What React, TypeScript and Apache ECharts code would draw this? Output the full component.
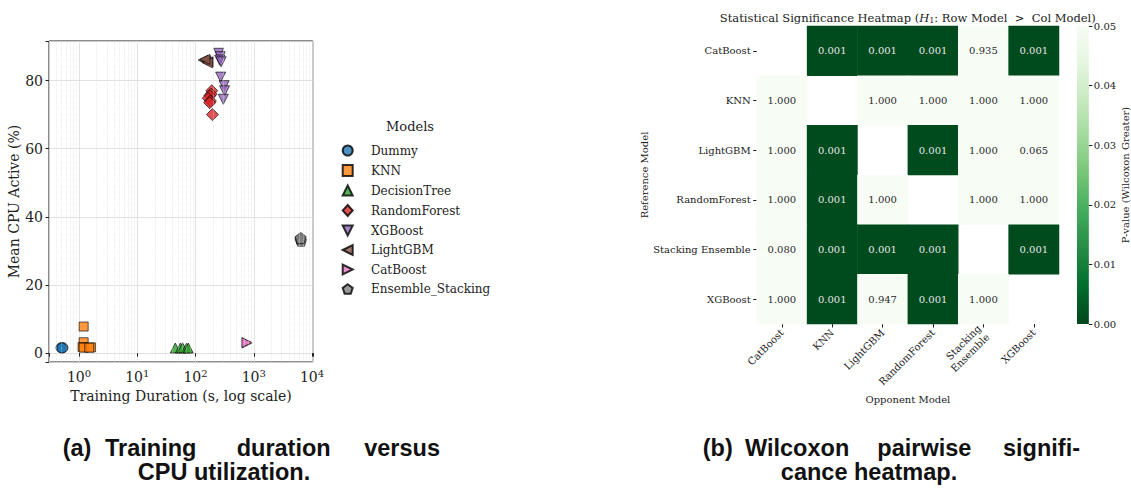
import React, { useEffect, useRef } from "react";
import * as echarts from "echarts";

// ---------- Data: (a) training duration (s) vs mean CPU active (%) ----------
const modelNames = ["Dummy", "KNN", "DecisionTree", "RandomForest", "XGBoost", "LightGBM", "CatBoost", "Ensemble_Stacking"];
const dummyPts = [[0.49, 1.6], [0.53, 1.6], [0.51, 1.5]];
const knnPts = [[1.2, 7.8], [1.2, 3.2], [1.15, 1.8], [1.2, 1.6], [1.6, 1.7], [1.5, 1.6]];
const treePts = [[45, 1.5], [55, 1.5], [60, 1.6], [70, 1.5], [75, 1.5]];
const rfPts = [[190, 77], [185, 76], [175, 75.5], [165, 74.8], [180, 74], [175, 73.5], [195, 70]];
const xgbPts = [[250, 88], [265, 87], [260, 86], [275, 85.5], [270, 81], [310, 78.5], [315, 77], [300, 74.5]];
const lgbmPts = [[135, 86], [150, 85.8], [165, 85.5], [160, 85.2], [145, 86.2]];
const catPts = [[770, 3.0], [760, 3.1]];
const stackPts = [[6300, 33.5], [6500, 33.0], [6400, 33.8]];
const modelColors = ["#1f77b4", "#ff7f0e", "#2ca02c", "#d62728", "#9467bd", "#8c564b", "#e377c2", "#7f7f7f"];

// ---------- Data: (b) Wilcoxon p-values, rows = reference, cols = opponent ----------
const rowNames = ["CatBoost", "KNN", "LightGBM", "RandomForest", "Stacking Ensemble", "XGBoost"];
const colNames = ["CatBoost", "KNN", "LightGBM", "RandomForest", "Stacking\nEnsemble", "XGBoost"];
const pCatBoost = [null, 0.001, 0.001, 0.001, 0.935, 0.001];
const pKNN = [1.0, null, 1.0, 1.0, 1.0, 1.0];
const pLightGBM = [1.0, 0.001, null, 0.001, 1.0, 0.065];
const pRandomForest = [1.0, 0.001, 1.0, null, 1.0, 1.0];
const pStacking = [0.08, 0.001, 0.001, 0.001, null, 0.001];
const pXGBoost = [1.0, 0.001, 0.947, 0.001, 1.0, null];
const pMatrix = [pCatBoost, pKNN, pLightGBM, pRandomForest, pStacking, pXGBoost];
const colorbarTicks = [0, 0.01, 0.02, 0.03, 0.04, 0.05];
const pMax = 0.05;

const greens = ["#f7fcf5", "#e5f5e0", "#c7e9c0", "#a1d99b", "#74c476", "#41ab5d", "#238b45", "#006d2c", "#00441b"];
const SERIF = "DejaVu Serif";
const SANS = "Liberation Sans";

const TRI_UP = "path://M0,-1L1,1L-1,1Z";
const TRI_DOWN = "path://M-1,-1L1,-1L0,1Z";
const TRI_LEFT = "path://M-1,0L1,-1L1,1Z";
const TRI_RIGHT = "path://M1,0L-1,-1L-1,1Z";
const PENTAGON = "path://M0,-10L9.51,-3.09L5.88,8.09L-5.88,8.09L-9.51,-3.09Z";

export default function App() {
  const ref = useRef<HTMLDivElement>(null);
  useEffect(() => {
    if (!ref.current) return;
    const chart = echarts.init(ref.current, undefined, { renderer: "svg" });

    const pointSets = [dummyPts, knnPts, treePts, rfPts, xgbPts, lgbmPts, catPts, stackPts];
    const symbols = ["circle", "rect", TRI_UP, "diamond", TRI_DOWN, TRI_LEFT, TRI_RIGHT, PENTAGON];
    const sizes = [10, 9, 10, 12, 10, 10, 10, 11];

    // minor log grid positions (2..9 x 10^n)
    const minorX: number[] = [];
    for (let e = -1; e <= 3; e++) for (let m = 2; m <= 9; m++) {
      const v = m * Math.pow(10, e);
      if (v > 0.305 && v < 10400) minorX.push(v);
    }

    const scatterSeries: any[] = modelNames.map((name, i) => ({
      type: "scatter",
      name,
      xAxisIndex: 0,
      yAxisIndex: 0,
      data: pointSets[i],
      symbol: symbols[i],
      symbolSize: sizes[i],
      itemStyle: { color: modelColors[i], opacity: 0.8, borderColor: "#000", borderWidth: 0.8 },
      z: 3,
    }));

    const gridSeries = {
      type: "scatter",
      name: "minorGrid",
      xAxisIndex: 0,
      yAxisIndex: 0,
      data: [],
      silent: true,
      z: 1,
      markLine: {
        silent: true,
        symbol: ["none", "none"],
        label: { show: false },
        lineStyle: { type: "dotted", color: "#dcdcdc", width: 0.6 },
        data: minorX.map((v) => ({ xAxis: v })),
      },
    };

    const heatData: any[] = [];
    pMatrix.forEach((row, r) => {
      row.forEach((v, c) => {
        if (v === null) return;
        heatData.push({
          value: [c, r, v, Math.min(v, pMax)],
          label: { color: v < 0.025 ? "#e6e6e6" : "#2b2b2b" },
        });
      });
    });

    const heatIndex = scatterSeries.length + 1;
    const capStyle = { fontFamily: SANS, fontWeight: "bold", fontSize: 23.5, fill: "#111", verticalAlign: "middle" };
    const Y1 = 447.5;
    const Y2 = 471.5;

    const option: any = {
      animation: false,
      backgroundColor: "#ffffff",
      legend: {
        data: modelNames.map((n, i) => ({ name: n, icon: symbols[i] })),
        orient: "vertical",
        left: 336.7,
        top: 139.5,
        itemWidth: 10,
        itemHeight: 11,
        itemGap: 7.5,
        textStyle: { fontFamily: SERIF, fontSize: 12, color: "#222", lineHeight: 11, padding: [0, 0, 0, 13.3] },
      },
      grid: [
        { left: 49, top: 41, width: 264, height: 321, show: true, borderColor: "#1a1a1a", borderWidth: 1, containLabel: false },
        { left: 756.7, top: 26, width: 302.3, height: 298, containLabel: false },
        { left: 1077, top: 26, width: 16, height: 298, containLabel: false },
      ],
      xAxis: [
        {
          type: "log",
          logBase: 10,
          gridIndex: 0,
          min: 0.305,
          max: 10400,
          name: "Training Duration (s, log scale)",
          nameLocation: "middle",
          nameGap: 23,
          nameTextStyle: { fontFamily: SERIF, fontSize: 14, color: "#222" },
          axisLine: { show: false },
          axisTick: { show: true, length: 3.5, lineStyle: { color: "#222" } },
          splitLine: { show: true, lineStyle: { color: "#dadada", width: 0.8 } },
          axisLabel: {
            margin: 6,
            formatter: (v: number) => {
              const e = Math.log10(v);
              const r = Math.round(e);
              if (Math.abs(e - r) > 1e-6) return "";
              return `{b|10}{s|${r}}`;
            },
            rich: {
              b: { fontFamily: SERIF, fontSize: 14, color: "#222" },
              s: { fontFamily: SERIF, fontSize: 10, color: "#222", padding: [0, 0, 8, 0] },
            },
          },
        },
        {
          type: "category",
          gridIndex: 1,
          data: colNames,
          name: "Opponent Model",
          nameLocation: "middle",
          nameGap: 66,
          nameTextStyle: { fontFamily: SERIF, fontSize: 10, color: "#222" },
          axisLine: { show: false },
          axisTick: { show: true, alignWithLabel: true, length: 3.5, lineStyle: { color: "#222" } },
          splitLine: { show: false },
          axisLabel: { rotate: 45, margin: 7, fontFamily: SERIF, fontSize: 10, color: "#222", interval: 0, lineHeight: 12 },
        },
        {
          type: "category",
          gridIndex: 2,
          data: ["p"],
          show: false,
        },
      ],
      yAxis: [
        {
          type: "value",
          gridIndex: 0,
          min: -2.6,
          max: 91.6,
          name: "Mean CPU Active (%)",
          nameLocation: "middle",
          nameRotate: 90,
          nameGap: 26,
          nameTextStyle: { fontFamily: SERIF, fontSize: 14, color: "#222" },
          axisLine: { show: false },
          axisTick: { show: true, length: 3.5, lineStyle: { color: "#222" } },
          splitLine: { show: true, lineStyle: { color: "#dadada", width: 0.8 } },
          axisLabel: {
            margin: 6,
            fontFamily: SERIF,
            fontSize: 14,
            color: "#222",
            formatter: (v: number) => (Math.abs(v / 20 - Math.round(v / 20)) < 1e-6 ? String(Math.round(v)) : ""),
          },
        },
        {
          type: "category",
          gridIndex: 1,
          data: rowNames,
          inverse: true,
          name: "Reference Model",
          nameLocation: "middle",
          nameRotate: 90,
          nameGap: 106,
          nameTextStyle: { fontFamily: SERIF, fontSize: 10, color: "#222" },
          axisLine: { show: false },
          axisTick: { show: true, alignWithLabel: true, length: 3.5, lineStyle: { color: "#222" } },
          splitLine: { show: false },
          axisLabel: { margin: 6, fontFamily: SERIF, fontSize: 10, color: "#222", interval: 0 },
        },
        {
          type: "value",
          gridIndex: 2,
          position: "right",
          min: colorbarTicks[0],
          max: colorbarTicks[colorbarTicks.length - 1],
          interval: 0.01,
          name: "P-value (Wilcoxon Greater)",
          nameLocation: "middle",
          nameRotate: 90,
          nameGap: 30,
          nameTextStyle: { fontFamily: SERIF, fontSize: 10, color: "#222" },
          axisLine: { show: false },
          axisTick: { show: true, length: 3.5, lineStyle: { color: "#222" } },
          splitLine: { show: false },
          axisLabel: { margin: 5, fontFamily: SERIF, fontSize: 10, color: "#222", formatter: (v: number) => v.toFixed(2) },
        },
      ],
      visualMap: {
        type: "continuous",
        show: false,
        min: 0,
        max: pMax,
        dimension: 3,
        seriesIndex: heatIndex,
        inRange: { color: greens.slice().reverse() },
      },
      series: [
        ...scatterSeries,
        gridSeries,
        {
          type: "heatmap",
          xAxisIndex: 1,
          yAxisIndex: 1,
          data: heatData,
          label: {
            show: true,
            fontFamily: SERIF,
            fontSize: 10,
            formatter: (p: any) => Number(p.value[2]).toFixed(3),
          },
          itemStyle: { borderWidth: 0 },
          emphasis: { disabled: true },
        },
        {
          type: "bar",
          xAxisIndex: 2,
          yAxisIndex: 2,
          data: [pMax],
          barWidth: "100%",
          silent: true,
          itemStyle: {
            color: new echarts.graphic.LinearGradient(0, 0, 0, 1,
              greens.map((c, i) => ({ offset: i / (greens.length - 1), color: c }))),
          },
        },
      ],
      graphic: [
        {
          type: "text",
          x: 410,
          y: 126,
          style: { text: "Models", fontFamily: SERIF, fontSize: 13, fill: "#222", align: "center", verticalAlign: "middle" },
        },
        {
          type: "text",
          x: 907.8,
          y: 18,
          style: {
            text: "{a|Statistical Significance Heatmap (}{i|H}{s|1}{a|: Row Model  >  Col Model)}",
            align: "center",
            verticalAlign: "middle",
            rich: {
              a: { fontFamily: SERIF, fontSize: 11.5, fill: "#222" },
              i: { fontFamily: SERIF, fontSize: 11.5, fontStyle: "italic", fill: "#222" },
              s: { fontFamily: SERIF, fontSize: 8, fill: "#222", padding: [5, 0, 0, 0] },
            },
          },
        },
        // caption (a)
        { type: "text", x: 62.7, y: Y1, style: { ...capStyle, text: "(a)", align: "left" } },
        { type: "text", x: 105, y: Y1, style: { ...capStyle, text: "Training", align: "left" } },
        { type: "text", x: 236.7, y: Y1, style: { ...capStyle, text: "duration", align: "left" } },
        { type: "text", x: 440, y: Y1, style: { ...capStyle, text: "versus", align: "right" } },
        { type: "text", x: 224, y: Y2, style: { ...capStyle, text: "CPU utilization.", align: "center" } },
        // caption (b)
        { type: "text", x: 702.7, y: Y1, style: { ...capStyle, text: "(b)", align: "left" } },
        { type: "text", x: 745, y: Y1, style: { ...capStyle, text: "Wilcoxon", align: "left" } },
        { type: "text", x: 877.3, y: Y1, style: { ...capStyle, text: "pairwise", align: "left" } },
        { type: "text", x: 1080, y: Y1, style: { ...capStyle, text: "signifi-", align: "right" } },
        { type: "text", x: 869, y: Y2, style: { ...capStyle, text: "cance heatmap.", align: "center" } },
      ],
    };

    chart.setOption(option);
    return () => chart.dispose();
  }, []);

  return <div ref={ref} style={{ position: "fixed", left: 0, top: 0, width: 1131, height: 494 }} />;
}
